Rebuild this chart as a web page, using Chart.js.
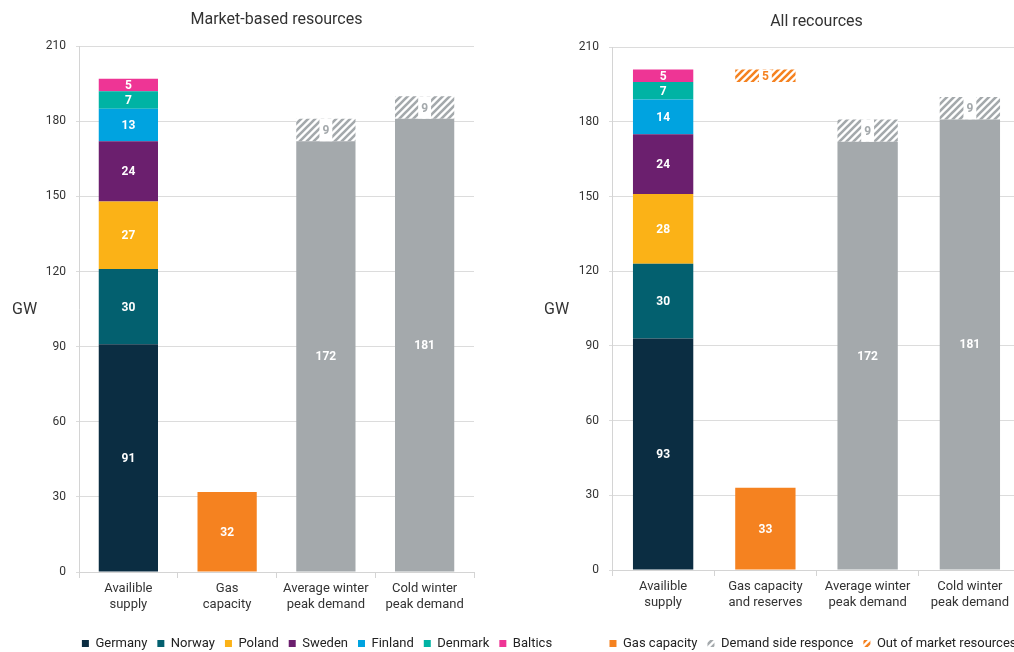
<!DOCTYPE html>
<html>
<head>
<meta charset="utf-8">
<script src="https://cdn.jsdelivr.net/npm/chart.js@4.4.1/dist/chart.umd.min.js"></script>
<style>
  html, body { margin: 0; padding: 0; background: #fff; overflow: hidden; width: 1014px; height: 652px; }
  .box { position: absolute; top: 0; }
  #leftBox { left: 0; }
  #rightBox { left: 533px; }
  .gw { position: absolute; top: 299px; font: 16px Roboto, sans-serif; color: #333; }
</style>
</head>
<body>
<div class="box" id="leftBox"><canvas id="leftChart" width="634" height="660"></canvas></div>
<div class="box" id="rightBox"><canvas id="rightChart" width="560" height="660"></canvas></div>
<span class="gw" style="left:12px">GW</span>
<span class="gw" style="left:544px">GW</span>
<script>
const categoriesMarket = [['Availible', 'supply'], ['Gas', 'capacity'], ['Average winter', 'peak demand'], ['Cold winter', 'peak demand']];
const categoriesAll = [['Availible', 'supply'], ['Gas capacity', 'and reserves'], ['Average winter', 'peak demand'], ['Cold winter', 'peak demand']];

const countries = ['Germany', 'Norway', 'Poland', 'Sweden', 'Finland', 'Denmark', 'Baltics'];
const supplyMarket = [91, 30, 27, 24, 13, 7, 5];
const supplyAll = [93, 30, 28, 24, 14, 7, 5];
const gasMarket = 32;
const gasAll = 33;
const outOfMarket = 5;
const peakDemand = [172, 181];       // average winter, cold winter
const demandResponse = [9, 9];

const yMin = 0, yMax = 210, yStep = 30;

const countryColors = ['#0b2d42', '#03606f', '#fbb217', '#6b1f6e', '#00a3e0', '#00b3a4', '#ee3595'];
const orange = '#f58220';
const grey = '#a4a9ac';
const FONT = 'Roboto, sans-serif';

Chart.defaults.font.family = FONT;
Chart.defaults.color = '#333';

function hatch(color) {
  const c = document.createElement('canvas');
  c.width = 7; c.height = 7;
  const g = c.getContext('2d');
  g.fillStyle = '#fff';
  g.fillRect(0, 0, 7, 7);
  g.strokeStyle = color;
  g.lineWidth = 2.6;
  g.beginPath();
  g.moveTo(-1, 8); g.lineTo(8, -1);
  g.moveTo(-4.5, 4.5); g.lineTo(4.5, -4.5);
  g.moveTo(2.5, 11.5); g.lineTo(11.5, 2.5);
  g.stroke();
  return g.createPattern(c, 'repeat');
}

// value labels in the middle of each segment
const barLabels = {
  id: 'barLabels',
  afterDatasetsDraw(chart) {
    const ctx = chart.ctx;
    chart.data.datasets.forEach((ds, i) => {
      if (!ds.showLabel) return;
      const meta = chart.getDatasetMeta(i);
      meta.data.forEach((bar, j) => {
        const v = ds.data[j];
        if (v == null) return;
        const p = bar.getProps(['x', 'y', 'base'], true);
        const txt = String(v);
        ctx.save();
        ctx.font = 'bold 12px ' + FONT;
        if (ds.labelBox) {
          const w = ctx.measureText(txt).width + 6;
          ctx.fillStyle = '#fff';
          ctx.fillRect(p.x - w / 2, Math.min(p.y, p.base), w, Math.abs(p.base - p.y));
        }
        ctx.fillStyle = ds.labelColor || '#fff';
        ctx.textAlign = 'center';
        ctx.textBaseline = 'middle';
        ctx.fillText(txt, p.x, (p.y + p.base) / 2 + 1);
        ctx.restore();
      });
    });
  }
};

function buildDatasets(supply, gas, withOutOfMarket) {
  const ds = countries.map((name, i) => ({
    label: name,
    data: [supply[i], null, null, null],
    backgroundColor: countryColors[i],
    group: 'country',
    showLabel: true
  }));
  ds.push({ label: 'Gas capacity', data: [null, gas, null, null], backgroundColor: orange, group: 'extra', showLabel: true });
  ds.push({ label: 'Peak demand', data: [null, null, peakDemand[0], peakDemand[1]], backgroundColor: grey, group: 'none', showLabel: true });
  ds.push({ label: 'Demand side responce', data: [null, null, demandResponse[0], demandResponse[1]], backgroundColor: hatch(grey),
    group: 'extra', showLabel: true, labelBox: true, labelColor: grey });
  if (withOutOfMarket) {
    // out-of-market block floats so its top lines up with the total available supply
    const total = supply.reduce((a, b) => a + b, 0);
    ds.push({ label: 'gap', data: [null, total - outOfMarket - gas, null, null], backgroundColor: 'rgba(0,0,0,0)', group: 'none' });
    ds.push({ label: 'Out of market resources', data: [null, outOfMarket, null, null], backgroundColor: hatch(orange),
      group: 'extra', showLabel: true, labelBox: true, labelColor: orange });
  }
  return ds;
}

function makeChart(canvasId, title, labels, datasets, legendGroup, rightPad, barPct, xHeight, titlePad) {
  return new Chart(document.getElementById(canvasId), {
    type: 'bar',
    data: { labels: labels, datasets: datasets },
    options: {
      responsive: false,
      animation: false,
      datasets: { bar: { barPercentage: barPct, categoryPercentage: 1, borderWidth: 0 } },
      layout: { padding: 0 },
      plugins: {
        title: { display: true, text: title, fullSize: false, color: '#333', font: { size: 16, weight: 'normal' }, padding: titlePad },
        legend: {
          position: 'bottom',
          labels: {
            boxWidth: 7, boxHeight: 7, padding: 10, color: '#222', font: { size: 13 },
            filter: (item, data) => data.datasets[item.datasetIndex].group === legendGroup
          }
        },
        tooltip: { enabled: false }
      },
      scales: {
        x: {
          stacked: true,
          grid: { drawOnChartArea: false, drawTicks: true, tickLength: 6, color: '#d4d4d4', offset: true },
          border: { color: '#d4d4d4' },
          ticks: { color: '#333', font: { size: 13 }, padding: 3, maxRotation: 0 },
          afterFit: s => { s.height = xHeight; }
        },
        y: {
          stacked: true,
          min: yMin, max: yMax,
          grid: { color: '#dcdcdc', tickLength: 3 },
          border: { color: '#d4d4d4' },
          ticks: { stepSize: yStep, color: '#333', font: { size: 12 }, padding: 10 },
          afterFit: s => { s.width = 79; }
        },
        y2: {
          type: 'linear',
          position: 'right',
          grid: { display: false },
          border: { display: false },
          ticks: { display: false },
          afterFit: s => { s.width = rightPad; }
        }
      }
    },
    plugins: [barLabels]
  });
}

makeChart('leftChart', 'Market-based resources', categoriesMarket,
  buildDatasets(supplyMarket, gasMarket, false), 'country', 160, 0.6, 55, { top: 10, bottom: 17 });
makeChart('rightChart', 'All recources', categoriesAll,
  buildDatasets(supplyAll, gasAll, true), 'extra', 72, 0.59, 57, { top: 12, bottom: 16 });
</script>
</body>
</html>
